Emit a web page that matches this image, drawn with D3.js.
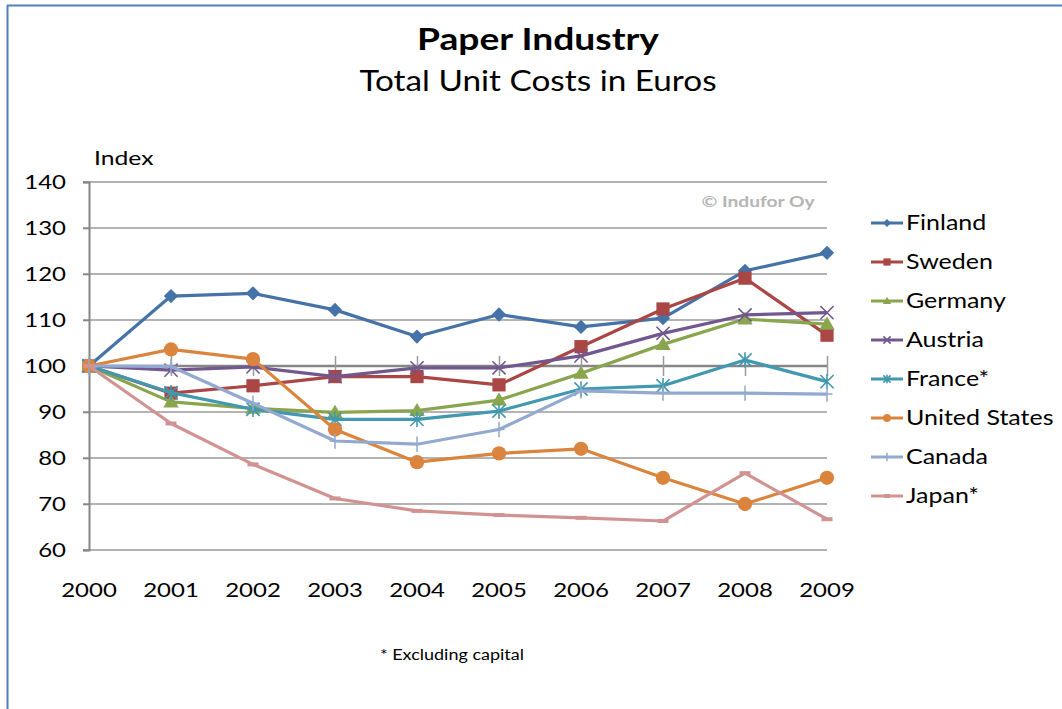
<!DOCTYPE html>
<html><head><meta charset="utf-8">
<script src="https://cdn.jsdelivr.net/npm/d3@7"></script>
<style>body{margin:0;background:#fff;} svg{display:block;}</style>
</head><body>
<svg id="c" width="1062" height="709"></svg>
<script>
const years = ["2000","2001","2002","2003","2004","2005","2006","2007","2008","2009"];
const yTicks = [60,70,80,90,100,110,120,130,140];
const finland = [100,115.2,115.8,112.2,106.4,111.2,108.5,110.4,120.7,124.6];
const sweden  = [100,94.1,95.7,97.7,97.7,95.9,104.2,112.4,119.1,106.7];
const germany = [100,92.2,90.8,89.9,90.3,92.6,98.4,104.7,110.2,109.1];
const austria = [100,99.1,99.8,97.7,99.6,99.6,102.2,107.1,111.1,111.6];
const france  = [100,94.2,90.6,88.4,88.4,90.2,95.0,95.7,101.3,96.6];
const usa     = [100,103.6,101.5,86.2,79.1,81.0,82.0,75.7,70.0,75.7];
const canada  = [100,99.9,91.9,83.7,83.0,86.2,94.6,94.1,94.1,93.9];
const japan   = [100,87.5,78.6,71.2,68.5,67.6,67.0,66.3,76.7,66.7];
const seriesNames = ["Finland","Sweden","Germany","Austria","France*","United States","Canada","Japan*"];
const seriesData = [finland,sweden,germany,austria,france,usa,canada,japan];
const colors = ["#4572A7","#AA4643","#89A54E","#71588F","#4198AF","#DB843D","#93A9CF","#D19392"];
const markers = ["diamond","square","triangle","x","star","circle","plus","dash"];

const svg = d3.select("#c");
const F = "Lato, 'Open Sans', sans-serif";

function txt(parent, x0, y0, s, opts){
  const o = Object.assign({size:20, anchor:"start", weight:"normal", fill:"#000", sx:1.2}, opts||{});
  return parent.append("text")
    .attr("transform",`translate(${x0},${y0}) scale(${o.sx},1)`)
    .attr("text-anchor",o.anchor).attr("font-family",F).attr("font-weight",o.weight)
    .attr("font-size",o.size).attr("fill",o.fill).text(s);
}

// border
svg.append("line").attr("x1",7).attr("x2",1062).attr("y1",5.5).attr("y2",5.5).attr("stroke","#4F81BD").attr("stroke-width",2);
svg.append("line").attr("x1",7.5).attr("x2",7.5).attr("y1",5).attr("y2",709).attr("stroke","#4F81BD").attr("stroke-width",2);

txt(svg,538,50,"Paper Industry",{size:31,anchor:"middle",weight:"bold",sx:1.2});
txt(svg,538,91,"Total Unit Costs in Euros",{size:28,anchor:"middle",sx:1.19});

const x = d3.scalePoint().domain(years).range([89,827]);
const y = d3.scaleLinear().domain([60,140]).range([550,182]);

// gridlines
svg.append("g").selectAll("line").data(yTicks).join("line")
  .attr("x1",83).attr("x2",827).attr("y1",d=>y(d)).attr("y2",d=>y(d))
  .attr("stroke",d=>d===100?"#868686":"#9a9a9a").attr("stroke-width",d=>d===100?2.5:1.5);

// y axis
const yAxis = svg.append("g").attr("transform","translate(89,0)").call(d3.axisLeft(y).tickValues(yTicks).tickSize(6));
yAxis.select(".domain").attr("stroke","#868686").attr("stroke-width",2);
yAxis.selectAll(".tick line").attr("stroke","#868686").attr("stroke-width",1.5);
yAxis.selectAll(".tick text").remove();
yTicks.forEach(t=>txt(svg,66,y(t)+7,String(t),{size:20,anchor:"end",sx:1.2}));

// x axis at 100
const xAxis = svg.append("g").attr("transform",`translate(0,${y(100)})`).call(d3.axisBottom(x).tickSize(0));
xAxis.select(".domain").remove();
xAxis.selectAll("text").remove();
xAxis.selectAll(".tick").append("line").attr("y1",-10).attr("y2",10).attr("stroke","#9a9a9a").attr("stroke-width",1.5);
years.forEach(yr=>txt(svg,x(yr),597,yr,{size:20,anchor:"middle",sx:1.2}));

txt(svg,94,165,"Index",{size:19,sx:1.3});
txt(svg,758,207,"©  Indufor Oy",{size:15,anchor:"middle",weight:"bold",fill:"#b5b5b5",sx:1.28});
txt(svg,380,660,"* Excluding capital",{size:15,sx:1.2});

function drawMarker(g, type, color, big){
  const s = big ? 1.1 : 0.6;
  if(type==="diamond") g.append("path").attr("d",`M0,${-6.5*s}L${6.5*s},0L0,${6.5*s}L${-6.5*s},0Z`).attr("fill",color);
  else if(type==="square") g.append("rect").attr("x",-6*s).attr("y",-6*s).attr("width",12*s).attr("height",12*s).attr("fill",color);
  else if(type==="triangle") g.append("path").attr("d",`M0,${-7*s}L${7*s},${5*s}L${-7*s},${5*s}Z`).attr("fill",color);
  else if(type==="circle") g.append("circle").attr("r",6.5*s).attr("fill",color);
  else if(type==="x") g.append("path").attr("d",`M${-6*s},${-6*s}L${6*s},${6*s}M${-6*s},${6*s}L${6*s},${-6*s}`).attr("stroke",color).attr("stroke-width",1.6);
  else if(type==="star") g.append("path").attr("d",`M${-6*s},${-6*s}L${6*s},${6*s}M${-6*s},${6*s}L${6*s},${-6*s}M0,${-7*s}L0,${7*s}`).attr("stroke",color).attr("stroke-width",1.6);
  else if(type==="plus") g.append("path").attr("d",`M0,${-7*s}L0,${7*s}M${-5*s},0L${5*s},0`).attr("stroke",color).attr("stroke-width",1.5);
  else if(type==="dash") g.append("path").attr("d",`M${-5*s},0L${5*s},0`).attr("stroke",color).attr("stroke-width",4);
}

const line = d3.line().x((d,i)=>x(years[i])).y(d=>y(d));
seriesData.forEach((vals,k)=>{
  const g = svg.append("g");
  g.append("path").datum(vals).attr("d",line).attr("fill","none").attr("stroke",colors[k]).attr("stroke-width",3.2).attr("stroke-linejoin","round");
  vals.forEach((v,i)=>{
    const mg = g.append("g").attr("transform",`translate(${x(years[i])},${y(v)})`);
    drawMarker(mg, markers[k], colors[k], true);
  });
});

// legend
const lg = svg.append("g");
seriesNames.forEach((n,k)=>{
  const yy = 223 + k*39;
  lg.append("line").attr("x1",871).attr("x2",903).attr("y1",yy).attr("y2",yy).attr("stroke",colors[k]).attr("stroke-width",3);
  const mg = lg.append("g").attr("transform",`translate(887,${yy})`);
  drawMarker(mg, markers[k], colors[k], false);
  txt(lg,906,yy+7,n,{size:21,sx:1.19});
});
</script>
</body></html>
